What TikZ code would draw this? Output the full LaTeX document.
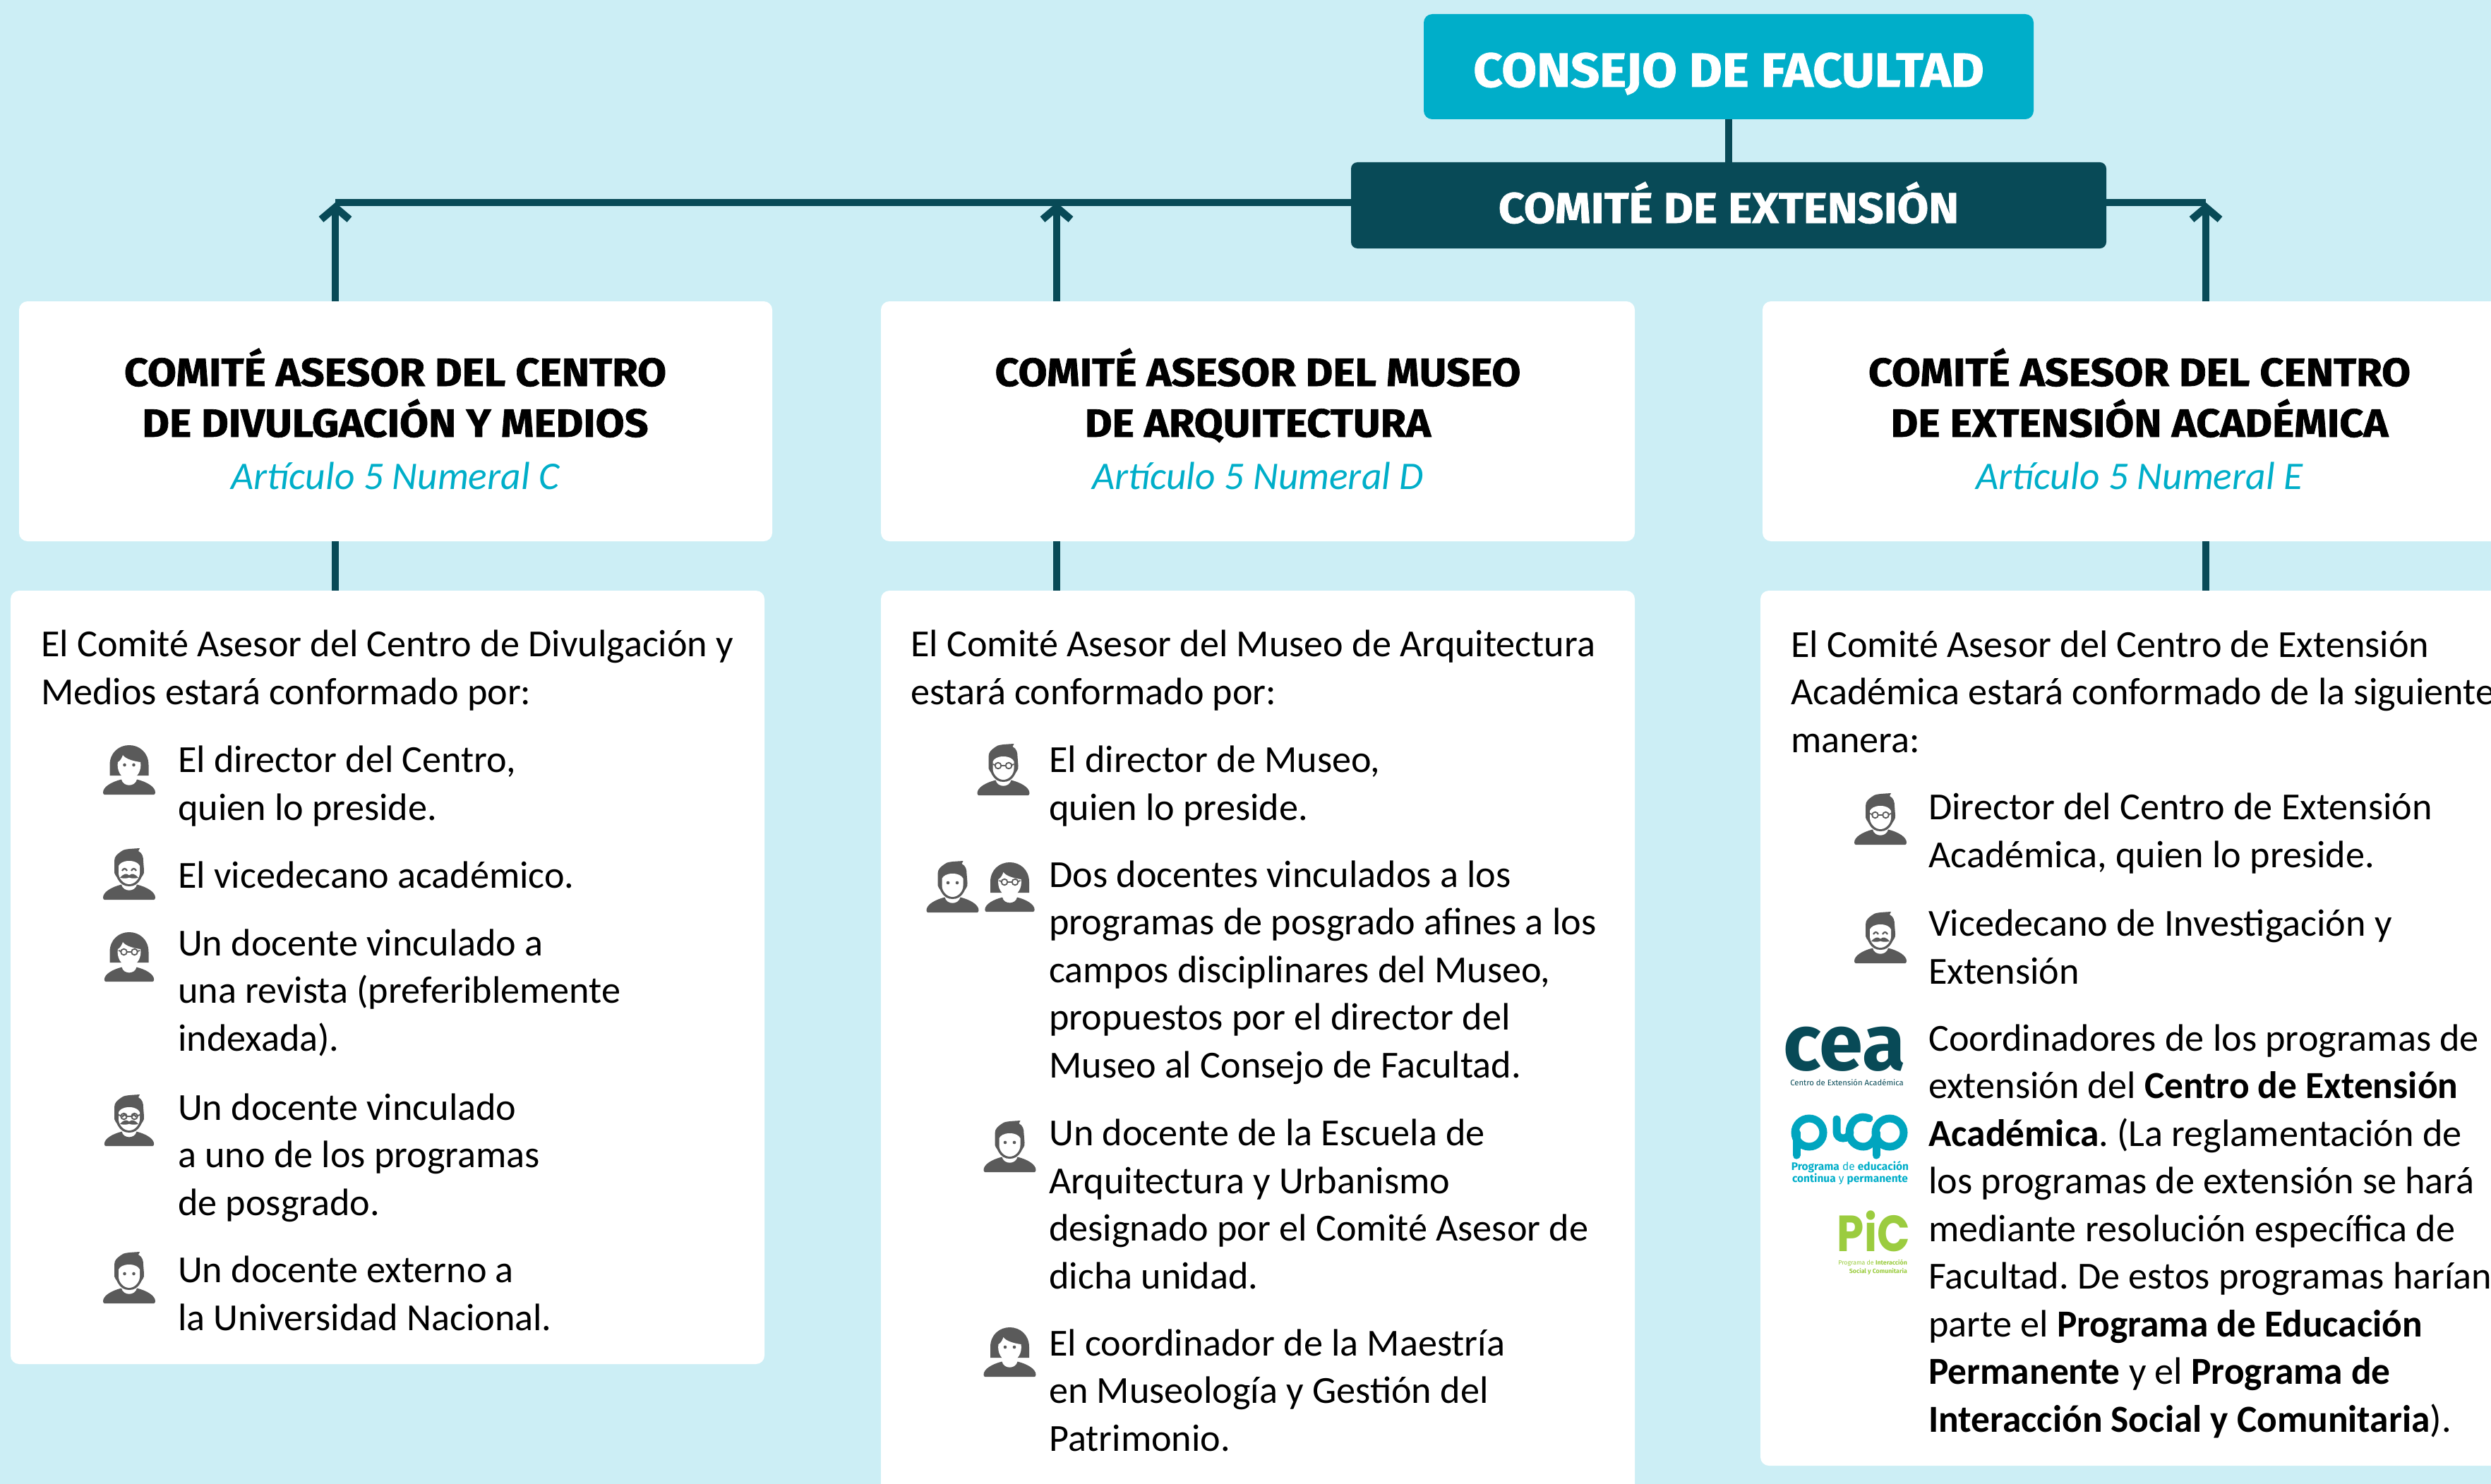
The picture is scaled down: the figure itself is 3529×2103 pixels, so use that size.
\documentclass[tikz,border=0pt]{standalone}
\usepackage{fontspec}
\usetikzlibrary{arrows.meta}
\setmainfont{Carlito}[BoldFeatures={FakeStretch=.985}]
\newfontfamily\headfont{Fira Sans}[BoldFeatures={FakeStretch=1.06,FakeBold=1.2}]
\newfontfamily\logofont{Fira Sans}
\newfontfamily\picfont{Poppins}[BoldFeatures={FakeStretch=.85}]
\definecolor{fondo}{HTML}{CCEEF5}
\definecolor{cian}{HTML}{00AEC9}
\definecolor{petroleo}{HTML}{084A57}
\definecolor{gris}{HTML}{5A5A5A}
\definecolor{verde}{HTML}{9BCC3F}
\newcommand\cuerpo{\fontsize{54.2}{67.5}\selectfont\frenchspacing}
\tikzset{
  x=1pt,y=-1pt,
  caja/.style={rectangle,rounded corners=12pt,inner sep=0pt,outer sep=0pt,draw=none},
  blanca/.style={caja,fill=white},
  titulo/.style={text=white,font=\headfont\bfseries,anchor=base,inner sep=0pt},
  nexo/.style={draw=petroleo,line width=10.5pt},
  flecha/.style={nexo,-{Straight Barb[length=17pt,width=40pt,line width=10.5pt]}},
  parrafo/.style={anchor=base west,align=left,inner sep=0pt,font=\cuerpo,text=black},
  encabezado/.style={anchor=base,align=center,inner sep=0pt,font=\headfont\bfseries\fontsize{56}{72}\selectfont,text=black},
  articulo/.style={anchor=base,inner sep=0pt,font=\itshape\fontsize{55.5}{67.5}\selectfont,text=cian},
  trazo/.style={draw=gris,line width=1.8pt,fill=none},
  mujer/.pic={
    \fill[gris] (-27.5,-27)--(-27.5,-42) .. controls (-27.5,-60) and (-14,-70) .. (0,-70) .. controls (14,-70) and (27.5,-60) .. (27.5,-42)--(27.5,-27)--cycle;
    \fill[white] (-16,-46) .. controls (-12,-48) and (-10,-53) .. (-9,-56) .. controls (-5,-50) and (8,-47) .. (16,-46) .. controls (18,-35) and (12,-22) .. (0,-22) .. controls (-12,-22) and (-18,-35) .. (-16,-46)--cycle;
  },
  hombre/.pic={
    \fill[gris] (-21,-42)--(-21,-55) .. controls (-21,-62) and (-16,-65) .. (-12,-68) .. controls (-8,-72) and (0,-72) .. (15,-73)--(13,-69) .. controls (19,-66) and (20,-60) .. (20,-55)--(21,-42) .. controls (22,-36) and (18,-34) .. (16,-29) .. controls (12,-22) and (7,-19) .. (0,-19) .. controls (-7,-19) and (-12,-22) .. (-16,-29) .. controls (-18,-34) and (-22,-36) .. (-21,-42)--cycle;
    \fill[white] (-15,-48) .. controls (-13,-52) and (-8,-55) .. (0,-55) .. controls (8,-55) and (13,-52) .. (15,-48)--(15,-38) .. controls (15,-30) and (8,-22) .. (0,-22) .. controls (-8,-22) and (-15,-30) .. (-15,-38)--cycle;
  },
  ojos/.pic={\fill[gris] (-6.5,-42) circle (2.3) (6.5,-42) circle (2.3);},
  gafas/.pic={\draw[trazo] (-7.5,-42) circle (4.3) (7.5,-42) circle (4.3) (-3.2,-42)--(3.2,-42) (-11.8,-43)--(-15,-44) (11.8,-43)--(15,-44);},
  risa/.pic={\draw[trazo,line width=2.2pt] (-10,-41) .. controls (-8,-45) and (-5,-45) .. (-3,-41) (3,-41) .. controls (5,-45) and (8,-45) .. (10,-41);},
  bigote/.pic={\fill[gris] (0,-34.5) .. controls (4,-38) and (8,-37) .. (13,-31) .. controls (7,-30) and (3,-30) .. (0,-31.5) .. controls (-3,-30) and (-7,-30) .. (-13,-31) .. controls (-8,-37) and (-4,-38) .. (0,-34.5)--cycle;},
  nada/.pic={},
}
\newcommand\icono[6]{\begin{scope}[shift={(#1,#2)},scale=#3]
  \fill[gris] (-37,-3) .. controls (-37,-11) and (-25,-18) .. (-11,-21.5) .. controls (-9,-10.5) and (9,-10.5) .. (11,-21.5) .. controls (25,-18) and (37,-11) .. (37,-3) .. controls (37,-1) and (36,0) .. (35,0)--(-35,0) .. controls (-36,0) and (-37,-1) .. (-37,-3)--cycle;
  \pic{#4};\pic{#5};\pic{#6};
\end{scope}}
\begin{document}
\begin{tikzpicture}
\useasboundingbox (0,0) rectangle (3529,2103);
\fill[fondo] (0,0) rectangle (3529,2103);
\begin{scope}
\clip (0,0) rectangle (3529,2103);

% cajas
\node[caja,fill=cian,minimum width=864pt,minimum height=149pt] (consejo) at (2449,94.5) {};
\node[caja,fill=petroleo,minimum width=1070pt,minimum height=122pt,rounded corners=9pt] (comite) at (2449,291) {};
\node[blanca,minimum width=1067pt,minimum height=340pt] (asesorA) at (560.5,597) {};
\node[blanca,minimum width=1068pt,minimum height=340pt] (asesorB) at (1782,597) {};
\node[blanca,minimum width=1068pt,minimum height=340pt] (asesorC) at (3031,597) {};
\node[blanca,minimum width=1068pt,minimum height=1096pt] (detalleA) at (549,1385) {};
\node[blanca,minimum width=1068pt,minimum height=1400pt] (detalleB) at (1782,1537) {};
\node[blanca,minimum width=1074pt,minimum height=1240pt] (detalleC) at (3031,1457) {};

% conectores
\coordinate (busA) at (475,287);
\coordinate (busB) at (1497,287);
\coordinate (busC) at (3125,287);
\draw[nexo] (consejo.south) -- (comite.north);
\draw[nexo] (comite.west |- busA) -- (busA);
\draw[nexo] (comite.east |- busC) -- (busC);
\draw[flecha] (busA |- asesorA.north) -- (busA);
\draw[flecha] (busB |- asesorB.north) -- (busB);
\draw[flecha] (busC |- asesorC.north) -- (busC);
\draw[nexo] (busA |- asesorA.south) -- (busA |- detalleA.north);
\draw[nexo] (busB |- asesorB.south) -- (busB |- detalleB.north);
\draw[nexo] (busC |- asesorC.south) -- (busC |- detalleC.north);

% titulos
\node[titulo,font=\headfont\bfseries\fontsize{68}{70}\selectfont] (tconsejo) at (2449,123) {CONSEJO DE FACULTAD};
\node[titulo,font=\headfont\bfseries\fontsize{61}{70}\selectfont] (tcomite) at (2449,316) {COMITÉ DE EXTENSIÓN};

\node[encabezado] (hA) at (560,619) {COMITÉ ASESOR DEL CENTRO\\DE DIVULGACIÓN Y MEDIOS};
\node[articulo] (aA) at (560,693) {Artículo 5 Numeral C};
\node[encabezado] (hB) at (1782,619) {COMITÉ ASESOR DEL MUSEO\\DE ARQUITECTURA};
\node[articulo] (aB) at (1782,693) {Artículo 5 Numeral D};
\node[encabezado] (hC) at (3031,619) {COMITÉ ASESOR DEL CENTRO\\DE EXTENSIÓN ACADÉMICA};
\node[articulo] (aC) at (3031,693) {Artículo 5 Numeral E};

% columna 1
\node[parrafo] (p1) at (58,998) {El Comité Asesor del Centro de Divulgación y\\Medios estará conformado por:};
\node[parrafo] (p2) at (252,1162) {El director del Centro,\\quien lo preside.};
\node[parrafo] (p3) at (252,1258) {El vicedecano académico.};
\node[parrafo] (p4) at (252,1489) {Un docente vinculado a\\una revista (preferiblemente\\indexada).};
\node[parrafo] (p5) at (252,1722) {Un docente vinculado\\a uno de los programas\\de posgrado.};
\node[parrafo] (p6) at (252,1885) {Un docente externo a\\la Universidad Nacional.};
\icono{183}{1126}{1}{mujer}{ojos}{nada}
\icono{183}{1275}{1}{hombre}{risa}{bigote}
\icono{183}{1391}{.95}{mujer}{gafas}{nada}
\icono{183}{1624}{.95}{hombre}{risa}{gafas}
\icono{183}{1847}{1}{hombre}{ojos}{nada}
\begin{scope}[shift={(183,1624)},scale=.95]\pic{bigote};\end{scope}

% columna 2
\node[parrafo] (q1) at (1290,998) {El Comité Asesor del Museo de Arquitectura\\estará conformado por:};
\node[parrafo] (q2) at (1486,1162) {El director de Museo,\\quien lo preside.};
\node[parrafo] (q3) at (1486,1527) {Dos docentes vinculados a los\\programas de posgrado afines a los\\campos disciplinares del Museo,\\propuestos por el director del\\Museo al Consejo de Facultad.};
\node[parrafo] (q4) at (1486,1826) {Un docente de la Escuela de\\Arquitectura y Urbanismo\\designado por el Comité Asesor de\\dicha unidad.};
\node[parrafo] (q5) at (1486,2056) {El coordinador de la Maestría\\en Museología y Gestión del\\Patrimonio.};
\icono{1421.5}{1127}{1}{hombre}{gafas}{nada}
\icono{1349.5}{1293}{1}{hombre}{ojos}{nada}
\icono{1430.5}{1292}{.95}{mujer}{gafas}{nada}
\icono{1430.5}{1661}{1}{hombre}{ojos}{nada}
\icono{1430.5}{1951}{1}{mujer}{ojos}{nada}

% columna 3
\node[parrafo] (r1) at (2537,1066) {El Comité Asesor del Centro de Extensión\\Académica estará conformado de la siguiente\\manera:};
\node[parrafo] (r2) at (2732,1229) {Director del Centro de Extensión\\Académica, quien lo preside.};
\node[parrafo] (r3) at (2732,1394) {Vicedecano de Investigación y\\Extensión};
\node[parrafo] (r4) at (2732,2029) {Coordinadores de los programas de\\extensión del \textbf{Centro de Extensión}\\\textbf{Académica}. (La reglamentación de\\los programas de extensión se hará\\mediante resolución específica de\\Facultad. De estos programas harían\\parte el \textbf{Programa de Educación}\\\textbf{Permanente} y el \textbf{Programa de}\\\textbf{Interacción Social y Comunitaria}).};
\icono{2664}{1197}{1}{hombre}{gafas}{nada}
\icono{2664}{1365}{1}{hombre}{risa}{bigote}

% logos
\node[anchor=base east,inner sep=0pt,text=petroleo,font=\logofont\bfseries\fontsize{112}{112}\selectfont] (cea) at (2700,1516) {cea};
\node[anchor=base east,inner sep=0pt,text=petroleo,font=\logofont\fontsize{11.3}{13}\selectfont] (ceat) at (2697,1538) {Centro de Extensión Académica};
\begin{scope}[draw=cian!95!black,line width=11pt,line cap=round]
  \draw (2563,1605) circle (20);
  \draw (2545,1605) -- (2545,1637);
  \draw (2602,1586) -- (2602,1604) .. controls (2602,1616) and (2620,1616) .. (2621,1604);
  \draw (2648,1585) .. controls (2630,1578) and (2620,1592) .. (2620,1605) .. controls (2620,1618) and (2630,1625) .. (2640,1625) .. controls (2650,1625) and (2658,1615) .. (2658,1605);
  \draw (2677,1605) circle (20);
  \draw (2658,1605) -- (2658,1637);
\end{scope}
\node[anchor=base,inner sep=0pt,align=center,text=cian,font=\logofont\fontsize{15.5}{14}\selectfont] (pecpt) at (2621,1675) {\textbf{Programa} de \textbf{educación}\\\textbf{continua} y \textbf{permanente}};
\node[anchor=base east,inner sep=0pt,text=verde,font=\picfont\bfseries\fontsize{72}{74}\selectfont] (pic) at (2706,1773) {PiC};
\node[anchor=base east,inner sep=0pt,align=right,text=verde,font=\logofont\fontsize{8.8}{12}\selectfont] (pict) at (2702,1804) {Programa de \textbf{Interacción}\\\textbf{Social y Comunitaria}};
\end{scope}
\end{tikzpicture}
\end{document}
